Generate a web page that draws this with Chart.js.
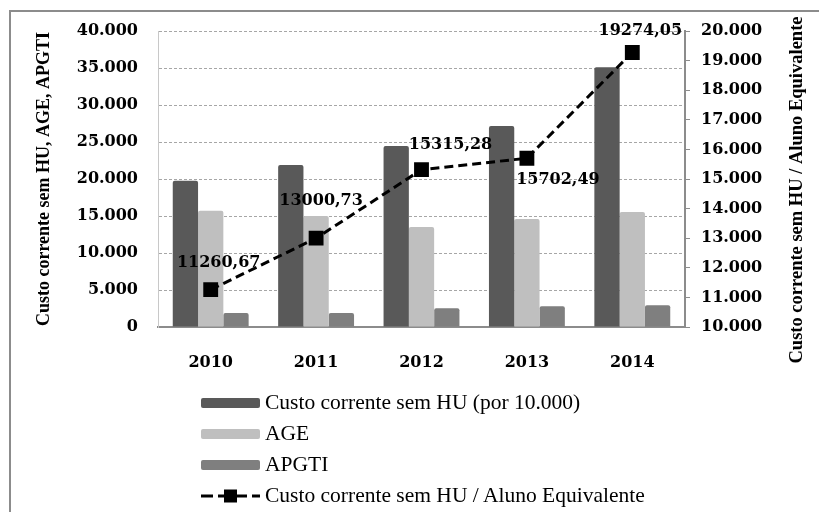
<!DOCTYPE html>
<html>
<head>
<meta charset="utf-8">
<title>Custo corrente sem HU</title>
<script src="https://cdn.jsdelivr.net/npm/chart.js@4/dist/chart.umd.min.js"></script>
<style>
    html, body { margin: 0; padding: 0; background: #fff; overflow: hidden; }
    #wrap { position: relative; width: 819px; height: 512px; }
    #frame { position: absolute; left: 9px; top: 10px; width: 900px; height: 600px;
             border: 2px solid #8c8c8c; pointer-events: none; }
    #legend { position: absolute; left: 201px; top: 387px;
              font-family: "Liberation Serif", serif; font-size: 21.5px; color: #000; }
    .item { display: flex; align-items: center; height: 31px; white-space: nowrap; }
    .box { width: 59px; height: 10px; border-radius: 2px; margin-right: 5px; }
    .item svg { margin-right: 5px; }
</style>
</head>
<body>
<div id="wrap">
    <canvas id="chart" width="819" height="512"></canvas>
    <div id="frame"></div>
    <div id="legend"></div>
</div>
<script>
// data
const years = ['2010', '2011', '2012', '2013', '2014'];
const custoSemHU = [19750, 21900, 24450, 27150, 35100];   // por 10.000
const age = [15700, 15000, 13500, 14600, 15550];
const apgti = [1900, 1900, 2550, 2800, 2950];
const custoPorAluno = [11260.67, 13000.73, 15315.28, 15702.49, 19274.05];

const leftTicks = { min: 0, max: 40000, step: 5000 };
const rightTicks = { min: 10000, max: 20000, step: 1000 };

const leftTitle = 'Custo corrente sem HU, AGE, APGTI';
const rightTitle = 'Custo corrente sem HU / Aluno Equivalente';

const numFont = { family: '"DejaVu Serif", serif', size: 16, weight: 'bold' };
const titleFont = { family: '"Liberation Serif", serif', size: 18, weight: 'bold' };

/**
 * 40000 -> "40.000"
 */
function thousands(v) {
    return Math.round(v).toString().replace(/\B(?=(\d{3})+(?!\d))/g, '.');
}

/**
 * Value labels next to the line points, offsets in px from each point.
 */
const labelOffsets = [[8, -27], [5, -37], [29, -25], [31, 22], [8, -22]];
const lineLabels = {
    id: 'lineLabels',
    afterDatasetsDraw(chart) {
        const ctx = chart.ctx;
        const meta = chart.getDatasetMeta(3);
        const values = chart.data.datasets[3].data;
        ctx.save();
        ctx.font = 'bold 16px "DejaVu Serif", serif';
        ctx.fillStyle = '#000';
        ctx.textAlign = 'center';
        ctx.textBaseline = 'middle';
        meta.data.forEach(function(pt, i) {
            const txt = values[i].toFixed(2).replace('.', ',');
            ctx.fillText(txt, pt.x + labelOffsets[i][0], pt.y + labelOffsets[i][1]);
        });
        ctx.restore();
    }
};

/**
 * Right axis title, reading bottom to top like the left one.
 */
const rightAxisTitle = {
    id: 'rightAxisTitle',
    afterDraw(chart) {
        const ctx = chart.ctx;
        const area = chart.chartArea;
        ctx.save();
        ctx.translate(chart.scales.y1.right - 22, (area.top + area.bottom) / 2 + 11);
        ctx.rotate(-Math.PI / 2);
        ctx.font = 'bold 18.5px "Liberation Serif", serif';
        ctx.fillStyle = '#000';
        ctx.textAlign = 'center';
        ctx.textBaseline = 'middle';
        ctx.fillText(rightTitle, 0, 0);
        ctx.restore();
    }
};

const chart = new Chart(document.getElementById('chart').getContext('2d'), {
    type: 'bar',
    data: {
        labels: years,
        datasets: [{
            label: 'Custo corrente sem HU (por 10.000)',
            data: custoSemHU,
            backgroundColor: '#595959',
            borderRadius: 2,
            yAxisID: 'y'
        }, {
            label: 'AGE',
            data: age,
            backgroundColor: '#bfbfbf',
            borderRadius: 2,
            yAxisID: 'y'
        }, {
            label: 'APGTI',
            data: apgti,
            backgroundColor: '#7f7f7f',
            borderRadius: 2,
            yAxisID: 'y'
        }, {
            type: 'line',
            label: 'Custo corrente sem HU / Aluno Equivalente',
            data: custoPorAluno,
            yAxisID: 'y1',
            order: -1,
            borderColor: '#000',
            backgroundColor: '#000',
            borderWidth: 3,
            borderDash: [9, 5],
            pointStyle: 'rect',
            pointRadius: 10.5,
            pointBorderWidth: 0,
            fill: false,
            tension: 0
        }]
    },
    options: {
        responsive: false,
        animation: false,
        layout: { padding: { left: 0, right: 0, top: 31, bottom: 140 } },
        categoryPercentage: 0.72,
        barPercentage: 1.0,
        plugins: {
            legend: { display: false },
            tooltip: { enabled: false }
        },
        scales: {
            x: {
                grid: { display: false },
                border: { display: true, color: '#8c8c8c', width: 2 },
                ticks: { font: numFont, color: '#000', padding: 18 },
                afterFit: function(scale) { scale.height = 45; }
            },
            y: {
                position: 'left',
                min: leftTicks.min,
                max: leftTicks.max,
                grid: { color: '#a6a6a6', drawTicks: false },
                border: { display: true, color: '#c8c8c8', width: 1, dash: [3, 2] },
                ticks: {
                    stepSize: leftTicks.step,
                    font: numFont,
                    color: '#000',
                    padding: 20,
                    callback: function(v) { return thousands(v); }
                },
                title: {
                    display: true,
                    text: leftTitle,
                    font: titleFont,
                    color: '#000',
                    padding: { top: 34, bottom: 0 }
                },
                afterFit: function(scale) { scale.width = 158; }
            },
            y1: {
                position: 'right',
                min: rightTicks.min,
                max: rightTicks.max,
                grid: { drawOnChartArea: false, drawTicks: true, tickLength: 5, color: '#8c8c8c' },
                border: { display: true, color: '#8c8c8c', width: 2 },
                ticks: {
                    stepSize: rightTicks.step,
                    font: numFont,
                    color: '#000',
                    padding: 11,
                    callback: function(v) { return thousands(v); }
                },
                afterFit: function(scale) { scale.width = 134; }
            }
        }
    },
    plugins: [lineLabels, rightAxisTitle]
});

/**
 * Vertical legend under the plot, built from the datasets.
 */
const legend = document.getElementById('legend');
chart.data.datasets.forEach(function(ds) {
    const item = document.createElement('div');
    item.className = 'item';
    if (ds.type === 'line') {
        item.innerHTML = '<svg width="59" height="16">' +
            '<line x1="0" y1="8" x2="59" y2="8" stroke="#000" stroke-width="3" stroke-dasharray="12,5"/>' +
            '<rect x="23" y="1.5" width="13" height="13" fill="#000"/></svg>';
    } else {
        const box = document.createElement('div');
        box.className = 'box';
        box.style.background = ds.backgroundColor;
        item.appendChild(box);
    }
    const txt = document.createElement('span');
    txt.textContent = ds.label;
    item.appendChild(txt);
    legend.appendChild(item);
});
</script>
</body>
</html>
